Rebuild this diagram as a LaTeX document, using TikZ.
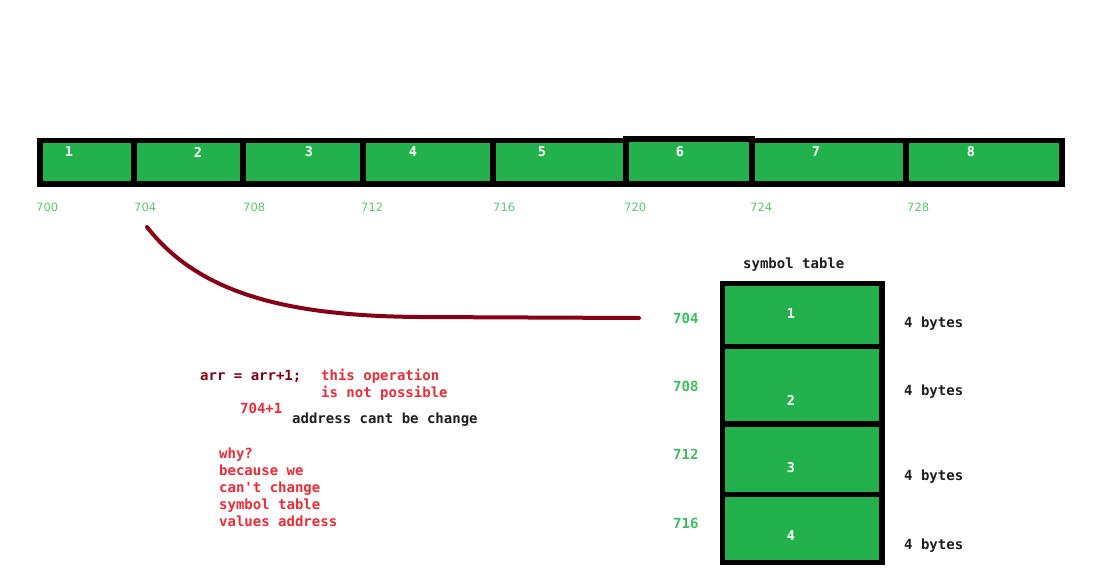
\documentclass[tikz,border=0pt]{standalone}
\usepackage{fontspec}
\setmainfont{DejaVu Sans}
\newfontfamily\codefont{DejaVu Sans Mono}
\definecolor{cellgreen}{HTML}{22B14C}
\definecolor{addrgreen}{HTML}{5EC673}
\definecolor{tabgreen}{HTML}{3DBE5C}
\definecolor{notered}{HTML}{EE2A36}
\definecolor{darkred}{HTML}{880015}
\definecolor{inkblack}{HTML}{1E1E1E}
\begin{document}
\begin{tikzpicture}[x=1pt, y=-1pt,
  cell/.style={draw=black, fill=cellgreen, line width=5.5pt, inner sep=0pt},
  num/.style={text=white, font=\codefont\bfseries\fontsize{13.5}{15}\selectfont, inner sep=0pt},
  addr/.style={text=addrgreen, anchor=west, font=\fontsize{11.5}{13}\selectfont, inner sep=0pt},
  taddr/.style={text=tabgreen, anchor=west, font=\codefont\bfseries\fontsize{14}{16}\selectfont, inner sep=0pt},
  code/.style={anchor=west, text=inkblack, font=\codefont\bfseries\fontsize{14}{17}\selectfont, inner sep=0pt, align=left}]
  \useasboundingbox (0,0) rectangle (1095,579);
  % array in memory
  \node [cell, minimum width=94, minimum height=43.5] (c1) at (87,162.25) {};
  \node [cell, minimum width=109, minimum height=43.5] (c2) at (188.5,162.25) {};
  \node [cell, minimum width=120, minimum height=43.5] (c3) at (303,162.25) {};
  \node [cell, minimum width=130, minimum height=43.5] (c4) at (428,162.25) {};
  \node [cell, minimum width=133, minimum height=43.5] (c5) at (559.5,162.25) {};
  \node [cell, minimum width=126, minimum height=45] (c6) at (689,161.5) {};
  \node [cell, minimum width=154, minimum height=43.5] (c7) at (829,162.25) {};
  \node [cell, minimum width=156, minimum height=43.5] (c8) at (984,162.25) {};
  \node [num] (n1) at (69,152) {1};
  \node [num] (n2) at (198,152) {2};
  \node [num] (n3) at (309,152) {3};
  \node [num] (n4) at (413,152) {4};
  \node [num] (n5) at (542,152) {5};
  \node [num] (n6) at (680,152) {6};
  \node [num] (n7) at (816,152) {7};
  \node [num] (n8) at (971,152) {8};
  \node [addr] (a700) at (36,207) {700};
  \node [addr] (a704) at (134,207) {704};
  \node [addr] (a708) at (243,207) {708};
  \node [addr] (a712) at (361,207) {712};
  \node [addr] (a716) at (493,207) {716};
  \node [addr] (a720) at (624,207) {720};
  \node [addr] (a724) at (750,207) {724};
  \node [addr] (a728) at (907,207) {728};
  % symbol table
  \node [code] (title) at (743,265) {symbol table};
  \node [cell, minimum width=159.5, minimum height=63] (s1) at (802.25,315) {};
  \node [cell, minimum width=159.5, minimum height=77.5] (s2) at (802.25,385.25) {};
  \node [cell, minimum width=159.5, minimum height=70.5] (s3) at (802.25,459.25) {};
  \node [cell, minimum width=159.5, minimum height=68] (s4) at (802.25,528.5) {};
  \node [num] (t1) at (791,314) {1};
  \node [num] (t2) at (791,400) {2};
  \node [num] (t3) at (791,468) {3};
  \node [num] (t4) at (791,536) {4};
  \node [taddr] (b704) at (673,318) {704};
  \node [taddr] (b708) at (673,386) {708};
  \node [taddr] (b712) at (673,454) {712};
  \node [taddr] (b716) at (673,523) {716};
  \node [code] (sz1) at (904,324) {4 bytes};
  \node [code] (sz2) at (904,392) {4 bytes};
  \node [code] (sz3) at (904,477) {4 bytes};
  \node [code] (sz4) at (904,546) {4 bytes};
  % notes
  \node [code, text=darkred] (stmt) at (200,376) {arr = arr+1;};
  \node [code, text=notered] (oper) at (321,384.5) {this operation\\is not possible};
  \node [code, text=notered] (plus) at (240,408) {704+1};
  \node [code] (cant) at (292,420) {address cant be change};
  \node [code, text=notered] (why) at (219,487) {why?\\because we\\can't change\\symbol table\\values address};
  % pointer curve
  \coordinate (from) at (147,227);
  \coordinate (to) at (639,318);
  \draw [darkred, line width=4pt, line cap=round] (from) .. controls (200,295) and (290,316) .. (420,317) -- (to);
\end{tikzpicture}
\end{document}
